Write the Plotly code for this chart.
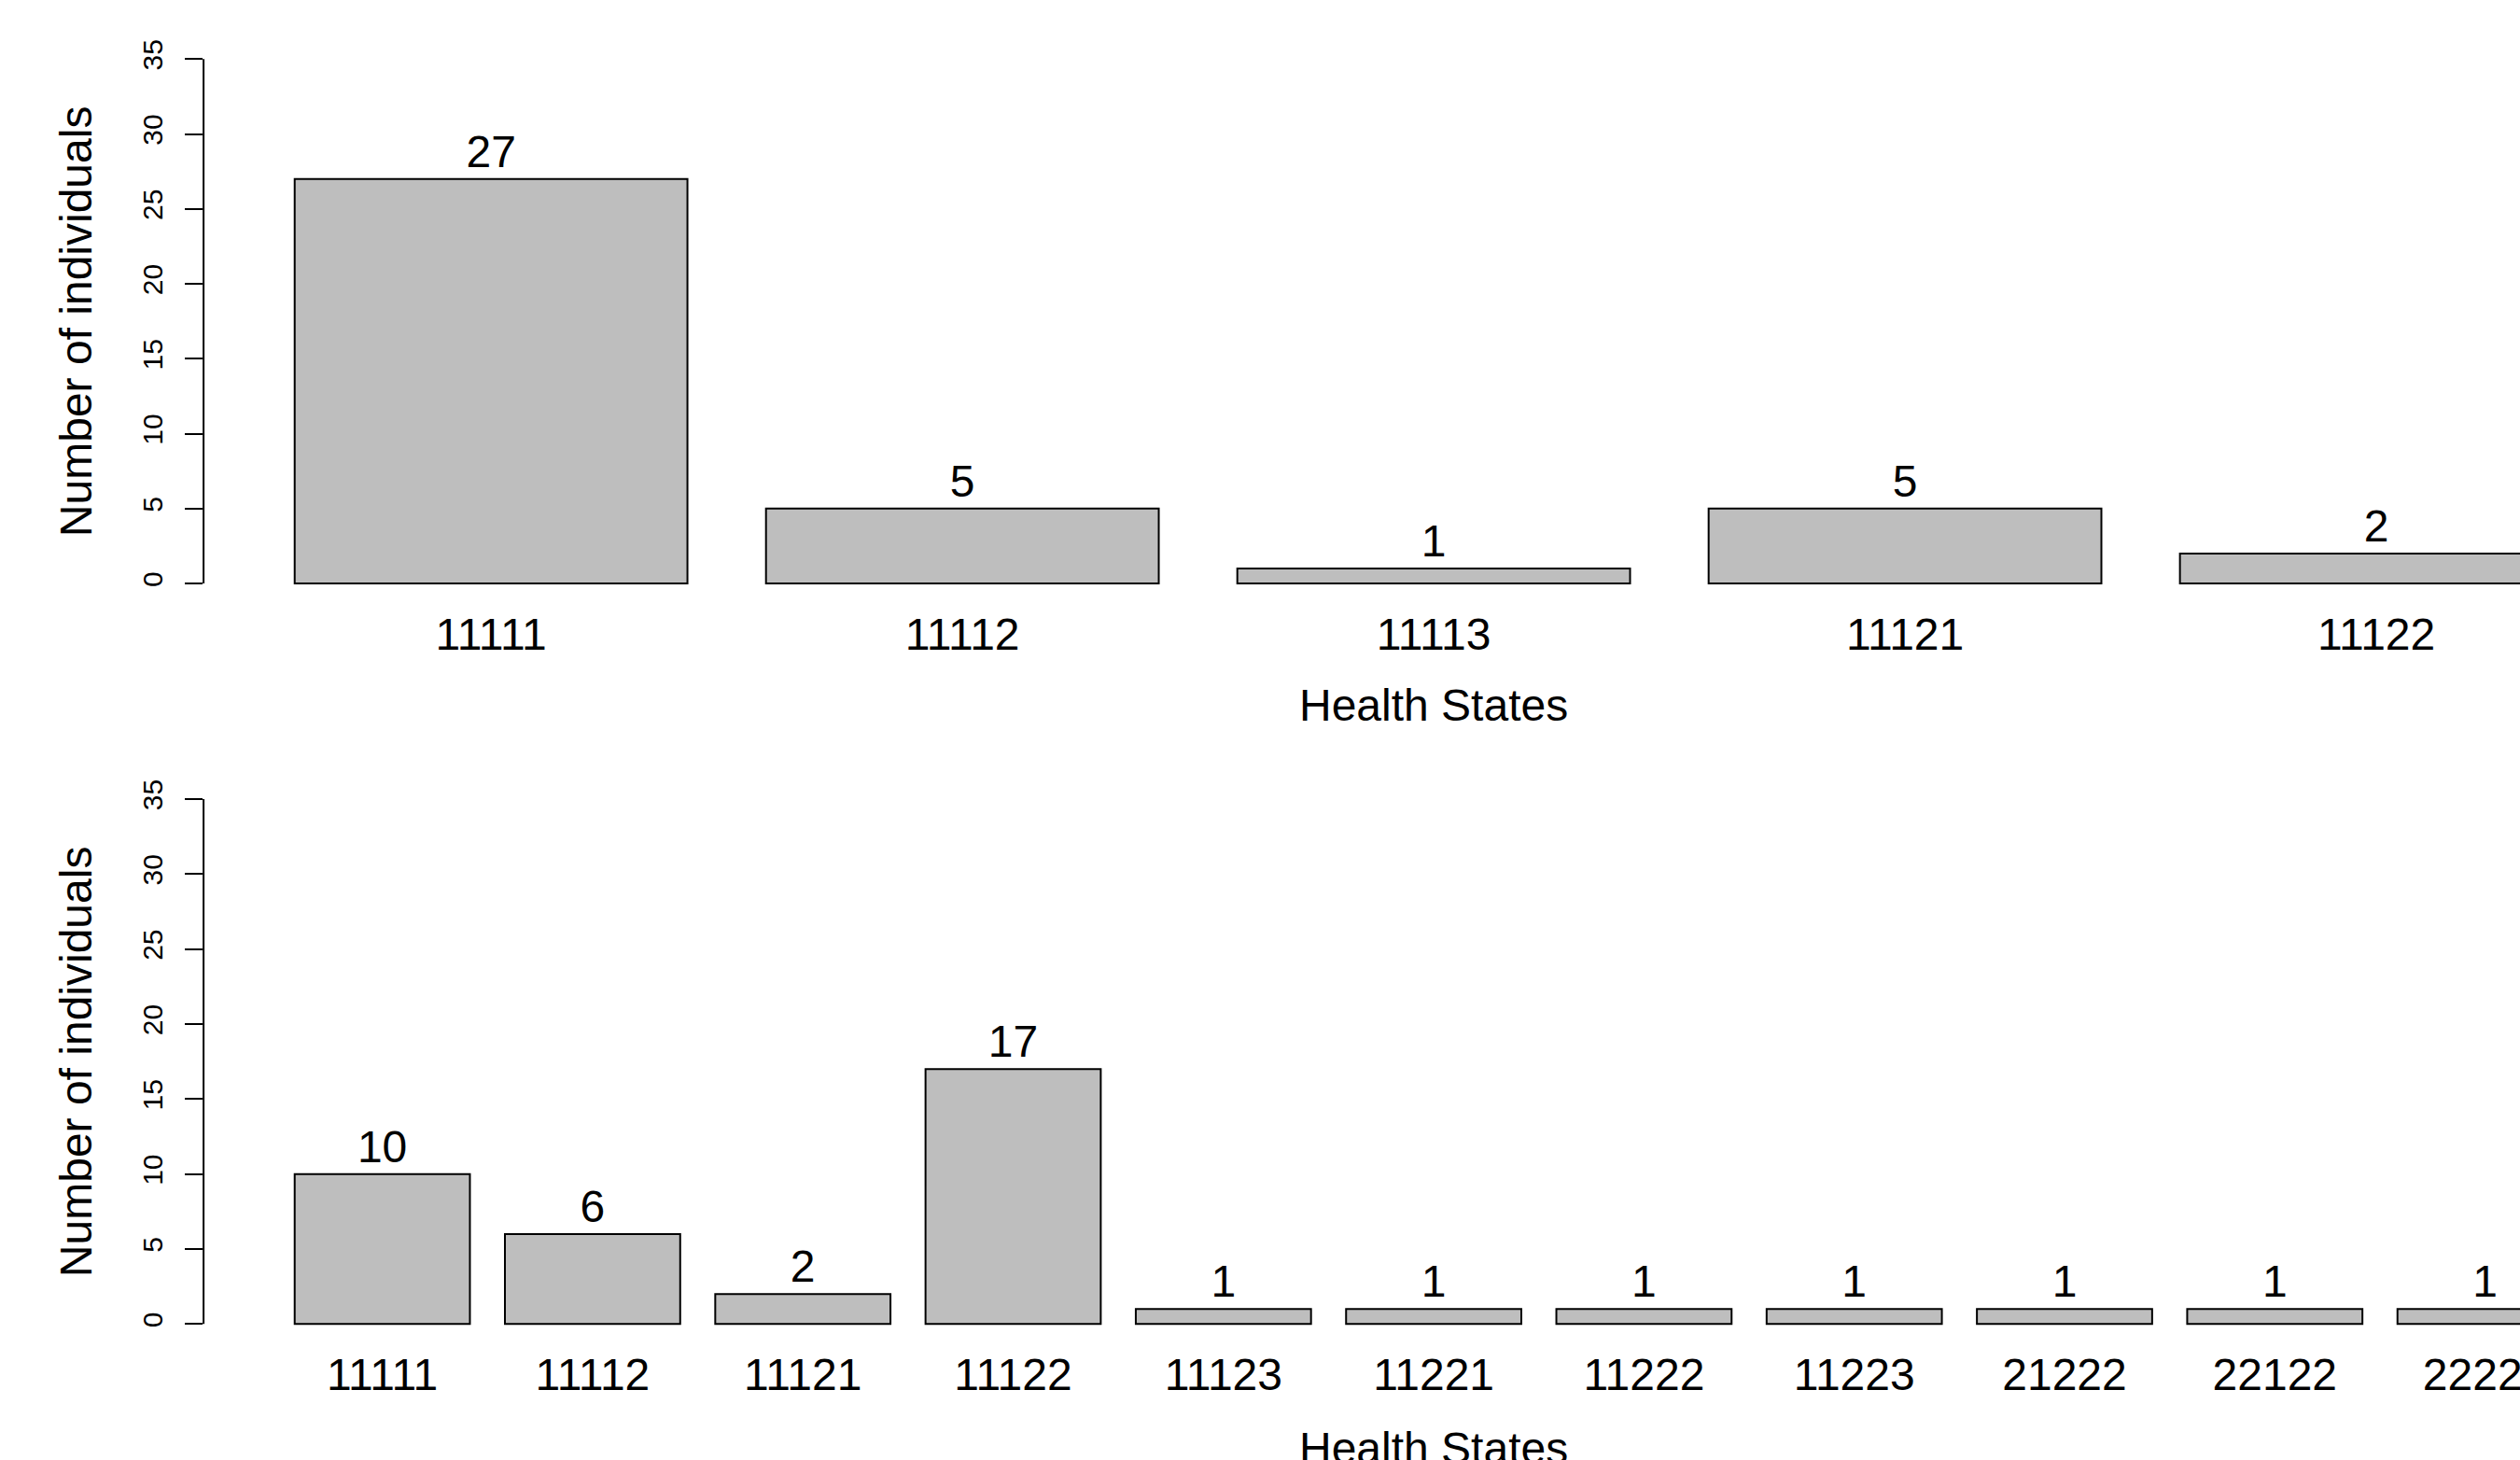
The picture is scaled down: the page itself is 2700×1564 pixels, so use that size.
import plotly.graph_objects as go

# ---------------- data ----------------
top_states = ["11111", "11112", "11113", "11121", "11122"]
top_counts = [27, 5, 1, 5, 2]

bottom_states = ["11111", "11112", "11121", "11122", "11123", "11221",
                 "11222", "11223", "21222", "22122", "22222"]
bottom_counts = [10, 6, 2, 17, 1, 1, 1, 1, 1, 1, 1]

y_ticks = [0, 5, 10, 15, 20, 25, 30, 35]

x_title = "Health States"
y_title = "Number of individuals"

# ---------------- style / layout constants ----------------
W, H = 2700, 1564
OFF = 0                      # page margin removed by post_script below
FONT = "Arial, Liberation Sans, sans-serif"
BAR_FILL = "#BEBEBE"
AX_LEFT_PX = 218.1
VISIBLE_FRAC = (W - AX_LEFT_PX) / 2636.0   # R plot region runs past the right edge
y_rng = [-1.4, 36.4]


def px_x(p):
    return (p - OFF) / W


def px_y(p):
    return 1 - (p - OFF) / H


x_dom = [px_x(AX_LEFT_PX), 1.0]


def x_range(n):
    # R barplot xlim (width 1, space 0.2) converted to plotly category units
    lo_r = 0.2 - 0.04 * (1.2 * n - 0.2)
    hi_r = 1.2 * n + 0.04 * (1.2 * n - 0.2)
    lo = (lo_r - 0.7) / 1.2
    hi = (hi_r - 0.7) / 1.2
    return [lo, lo + VISIBLE_FRAC * (hi - lo)], (lo + hi) / 2


fig = go.Figure()

# (categories, values, xaxis, yaxis, y-domain pixel rows (bottom, top), title top px)
panels = [
    (top_states, top_counts, "x", "y", (647.5, 40.8), 726.6),
    (bottom_states, bottom_counts, "x2", "y2", (1440.8, 833.5), 1523.2),
]

layout_axes = {}
annotations = []
shapes = []
for i, (cats, vals, xa, ya, ypx, title_px) in enumerate(panels):
    fig.add_trace(go.Bar(
        x=cats, y=vals, xaxis=xa, yaxis=ya,
        marker=dict(color=BAR_FILL, line=dict(color="black", width=2)),
        text=[str(v) for v in vals], textposition="outside",
        textfont=dict(family=FONT, size=48, color="black"),
        constraintext="none", cliponaxis=False,
        showlegend=False, hoverinfo="skip",
    ))
    xr, xc = x_range(len(cats))
    xkey = "xaxis" if i == 0 else "xaxis2"
    ykey = "yaxis" if i == 0 else "yaxis2"
    layout_axes[xkey] = dict(
        domain=x_dom, anchor=ya, type="category", range=xr,
        showgrid=False, zeroline=False, showline=False, ticks="",
        tickfont=dict(family=FONT, size=48, color="black"),
        ticklabelstandoff=-1, automargin=False, fixedrange=True,
    )
    layout_axes[ykey] = dict(
        domain=[px_y(ypx[0]), px_y(ypx[1])], anchor=xa, range=y_rng,
        tickmode="array", tickvals=y_ticks, ticktext=[str(t) for t in y_ticks],
        ticks="outside", ticklen=19, tickwidth=2, tickcolor="black",
        tickangle=-90, tickfont=dict(family=FONT, size=30, color="black"),
        ticklabelstandoff=12,
        showgrid=False, zeroline=False, showline=False, automargin=False,
        fixedrange=True,
    )
    shapes.append(dict(
        type="line", xref="paper", yref=ya,
        x0=x_dom[0], x1=x_dom[0], y0=min(y_ticks), y1=max(y_ticks),
        line=dict(color="black", width=2),
    ))
    annotations.append(dict(
        text=x_title, xref=xa, yref="paper", x=xc, y=px_y(title_px),
        xanchor="center", yanchor="top", showarrow=False,
        font=dict(family=FONT, size=48, color="black"),
    ))
    annotations.append(dict(
        text=y_title, xref="paper", yref=ya, x=px_x(81),
        y=(min(y_ticks) + max(y_ticks)) / 2,
        xanchor="center", yanchor="middle", textangle=-90, showarrow=False,
        font=dict(family=FONT, size=48, color="black"),
    ))

fig.update_layout(
    width=W, height=H,
    margin=dict(l=0, r=0, t=0, b=0, pad=0),
    paper_bgcolor="white", plot_bgcolor="white",
    bargap=1 / 6,
    annotations=annotations, shapes=shapes,
    **layout_axes,
)

fig.write_html(
    "out.html",
    config={"displayModeBar": False},
    post_script="document.body.style.margin='0';document.body.style.overflow='hidden';",
)
